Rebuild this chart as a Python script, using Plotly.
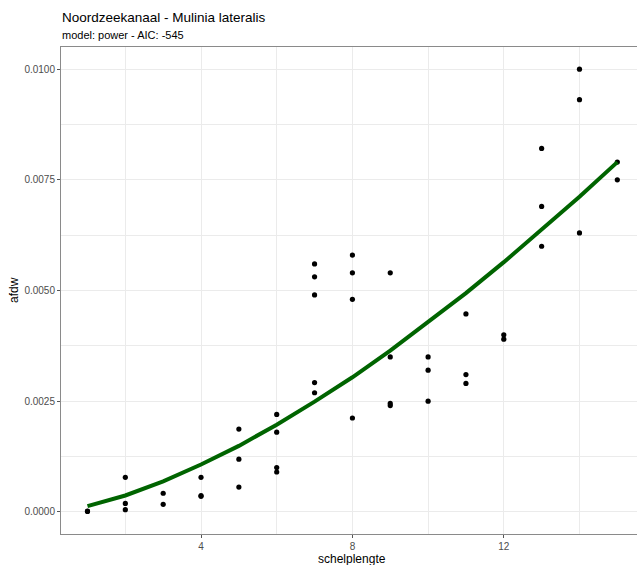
import plotly.graph_objects as go

# observed data
schelplengte = [1, 1,
                2, 2, 2,
                3, 3,
                4, 4, 4,
                5, 5, 5,
                6, 6, 6, 6,
                7, 7, 7, 7, 7,
                8, 8, 8, 8,
                9, 9, 9, 9,
                10, 10, 10,
                11, 11, 11,
                12, 12,
                13, 13, 13,
                14, 14, 14,
                15, 15]
afdw = [0.00001, 0.00002,
        0.00078, 0.00019, 0.00005,
        0.00042, 0.00017,
        0.00078, 0.00035, 0.00037,
        0.00187, 0.00119, 0.00056,
        0.00220, 0.00180, 0.00100, 0.00090,
        0.00560, 0.00531, 0.00490, 0.00292, 0.00269,
        0.00580, 0.00540, 0.00480, 0.00212,
        0.00540, 0.00350, 0.00245, 0.00240,
        0.00350, 0.00320, 0.00250,
        0.00447, 0.00310, 0.00290,
        0.00400, 0.00390,
        0.00821, 0.00690, 0.00600,
        0.01000, 0.00931, 0.00630,
        0.00790, 0.00750]

# fitted power curve values
fit_x = [1, 2, 3, 4, 5, 6, 7, 8, 9, 10, 11, 12, 13, 14, 15]
fit_y = [0.00013, 0.00037, 0.00069, 0.00107, 0.00149, 0.00197, 0.00249,
         0.00304, 0.00364, 0.00428, 0.00494, 0.00564, 0.00637, 0.00712, 0.00790]

x_ticks = [4, 8, 12]
y_ticks = [0.0, 0.0025, 0.0050, 0.0075, 0.0100]
y_tick_labels = ["0.0000", "0.0025", "0.0050", "0.0075", "0.0100"]

title_text = "Noordzeekanaal - Mulinia lateralis"
subtitle_text = "model: power - AIC: -545"
x_title = "schelplengte"
y_title = "afdw"

font_family = "Liberation Sans, Arial, sans-serif"
W, H = 637, 565
ML, MR, MT, MB = 61, 0, 47, 31

fig = go.Figure()
fig.add_trace(go.Scatter(x=schelplengte, y=afdw, mode="markers",
                         marker=dict(color="black", size=5.2, line=dict(width=0)),
                         showlegend=False))
fig.add_trace(go.Scatter(x=fit_x, y=fit_y, mode="lines",
                         line=dict(color="#006400", width=4),
                         showlegend=False))

grid = "#EBEBEB"
plot_h = H - MT - MB
plot_w = W - ML - MR


def px_to_paper_y(py):
    return (H - MB - py) / plot_h


def px_to_paper_x(px):
    return (px - ML) / plot_w


annotations = [
    dict(text=title_text, x=px_to_paper_x(60), y=px_to_paper_y(17), xref="paper", yref="paper",
         xanchor="left", yanchor="middle", showarrow=False,
         font=dict(size=13.5, color="black", family=font_family)),
    dict(text=subtitle_text, x=px_to_paper_x(60), y=px_to_paper_y(35.5), xref="paper", yref="paper",
         xanchor="left", yanchor="middle", showarrow=False,
         font=dict(size=11, color="black", family=font_family)),
    dict(text=x_title, x=px_to_paper_x(352), y=px_to_paper_y(558.5), xref="paper", yref="paper",
         xanchor="center", yanchor="middle", showarrow=False,
         font=dict(size=12, color="black", family=font_family)),
    dict(text=y_title, x=px_to_paper_x(14), y=px_to_paper_y(290), xref="paper", yref="paper",
         xanchor="center", yanchor="middle", showarrow=False, textangle=-90,
         font=dict(size=12, color="black", family=font_family)),
]

fig.update_layout(
    width=W, height=H,
    margin=dict(l=ML, r=MR, t=MT, b=MB, autoexpand=False),
    paper_bgcolor="white", plot_bgcolor="white",
    font=dict(family=font_family, color="black"),
    annotations=annotations,
    xaxis=dict(range=[0.3, 15.52], tickvals=x_ticks, ticktext=[str(v) for v in x_ticks],
               automargin=False,
               showgrid=True, gridcolor=grid, gridwidth=1.1,
               minor=dict(dtick=2, tick0=0, showgrid=True, gridcolor=grid, gridwidth=0.6, ticks=""),
               zeroline=False, showline=True, linecolor="#8a8a8a", linewidth=1, mirror=True,
               ticks="outside", ticklen=3, tickcolor="#555", tickwidth=1,
               tickfont=dict(size=10, color="#4D4D4D")),
    yaxis=dict(range=[-0.0005, 0.0105], tickvals=y_ticks, ticktext=y_tick_labels,
               automargin=False,
               showgrid=True, gridcolor=grid, gridwidth=1.1,
               minor=dict(dtick=0.00125, tick0=0, showgrid=True, gridcolor=grid, gridwidth=0.6, ticks=""),
               zeroline=False, showline=True, linecolor="#8a8a8a", linewidth=1, mirror=False,
               ticks="outside", ticklen=3, tickcolor="#555", tickwidth=1,
               tickfont=dict(size=10, color="#4D4D4D")),
)

fig.write_html("out.html",
               config={"displayModeBar": False},
               post_script="document.body.style.margin='0';document.body.style.overflow='hidden';")
